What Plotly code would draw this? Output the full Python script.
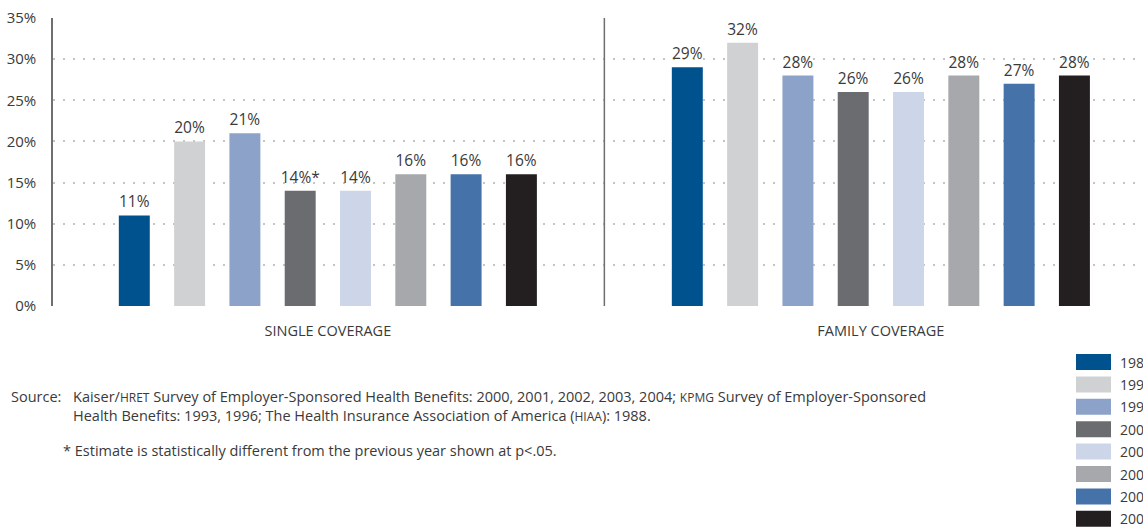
import plotly.graph_objects as go

# Survey years and the share of premium paid by workers (percent)
years = ["1988", "1993", "1996", "2000", "2001", "2002", "2003", "2004"]
categories = ["SINGLE COVERAGE", "FAMILY COVERAGE"]
single = [11, 20, 21, 14, 14, 16, 16, 16]
family = [29, 32, 28, 26, 26, 28, 27, 28]
single_labels = ["11%", "20%", "21%", "14%*", "14%", "16%", "16%", "16%"]
family_labels = ["29%", "32%", "28%", "26%", "26%", "28%", "27%", "28%"]
y_ticks = [0, 5, 10, 15, 20, 25, 30, 35]
y_tick_labels = ["0%", "5%", "10%", "15%", "20%", "25%", "30%", "35%"]

colors = ["#00528f", "#d0d1d3", "#8da2c9", "#6b6c70",
          "#cdd6e8", "#a7a8ab", "#4672aa", "#231f20"]

FONT = "Open Sans"
TEXT = "#3a3a3a"
W, H = 1143, 527
ML, MT, MB = 53, 18, 221
PW, PH = W - ML, H - MT - MB


def px(x):
    return (x - ML) / PW


def py(y):
    return (H - MB - y) / PH


fig = go.Figure()
for i, yr in enumerate(years):
    fig.add_trace(go.Bar(
        name=yr,
        x=categories,
        y=[single[i], family[i]],
        text=[single_labels[i], family_labels[i]],
        textposition="outside",
        constraintext="none",
        textfont=dict(family=FONT, size=15.5, color=TEXT),
        cliponaxis=False,
        marker=dict(color=colors[i], line=dict(width=0)),
        showlegend=False,
    ))

# divider between the two coverage groups
fig.add_shape(type="line", xref="x", yref="y", x0=0.5, x1=0.5, y0=0, y1=35,
              line=dict(color="#6f6f6f", width=1.5))

# legend: wide swatches stacked at the lower right
for i, yr in enumerate(years):
    yc = 362 + i * 22.4
    fig.add_shape(type="rect", xref="paper", yref="paper",
                  x0=px(1076), x1=px(1111), y0=py(yc - 8), y1=py(yc + 8),
                  fillcolor=colors[i], line=dict(width=0))
    fig.add_annotation(xref="paper", yref="paper", x=px(1118), y=py(yc),
                       text=yr, showarrow=False, xanchor="left", yanchor="middle",
                       font=dict(family=FONT, size=14, color=TEXT))

sc = '<span style="font-size:12px">{}</span>'
fig.add_annotation(xref="paper", yref="paper", x=px(9), y=py(396),
                   text="Source:", showarrow=False, xanchor="left", yanchor="middle",
                   font=dict(family=FONT, size=14.5, color=TEXT))
fig.add_annotation(
    xref="paper", yref="paper", x=px(71), y=py(406),
    text=("Kaiser/" + sc.format("HRET") + " Survey of Employer-Sponsored Health Benefits: "
          "2000, 2001, 2002, 2003, 2004; " + sc.format("KPMG") + " Survey of Employer-Sponsored<br>"
          "Health Benefits: 1993, 1996; The Health Insurance Association of America ("
          + sc.format("HIAA") + "): 1988."),
    showarrow=False, xanchor="left", yanchor="middle", align="left",
    font=dict(family=FONT, size=14.5, color=TEXT))
fig.add_annotation(xref="paper", yref="paper", x=px(61), y=py(450),
                   text="* Estimate is statistically different from the previous year shown at p<.05.",
                   showarrow=False, xanchor="left", yanchor="middle",
                   font=dict(family=FONT, size=14.5, color=TEXT))

fig.update_layout(
    width=W, height=H,
    margin=dict(l=ML, r=0, t=MT, b=MB),
    paper_bgcolor="white", plot_bgcolor="white",
    barmode="group", bargap=0.2, bargroupgap=0.44,
    font=dict(family=FONT, color=TEXT),
    xaxis=dict(range=[-0.497, 1.474], showgrid=False, showline=False, ticks="",
               tickfont=dict(family=FONT, size=14.5, color=TEXT), ticklabelstandoff=14),
    yaxis=dict(range=[0, 35], tickmode="array", tickvals=y_ticks, ticktext=y_tick_labels,
               showgrid=True, gridcolor="#c4c4c4", gridwidth=2, griddash="2px,8px",
               zeroline=False, showline=True, linecolor="#6f6f6f", linewidth=1.5,
               ticks="", ticklabelstandoff=12,
               tickfont=dict(family=FONT, size=15, color=TEXT)),
)

fig.write_html("out.html")
